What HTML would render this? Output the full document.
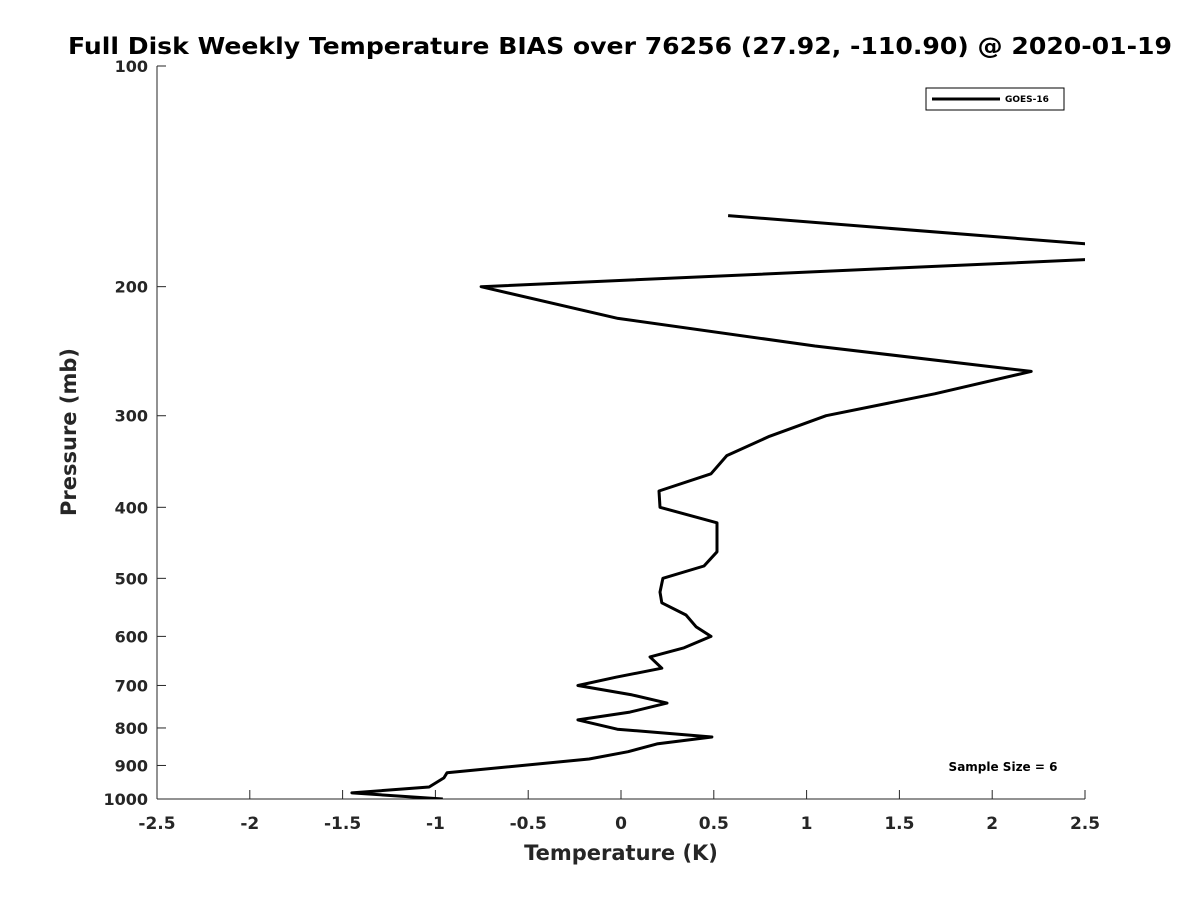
<!DOCTYPE html>
<html><head><meta charset="utf-8"><style>
body{margin:0;background:#fff;}
svg text{font-family:"DejaVu Sans","Liberation Sans",sans-serif;font-weight:bold;fill:#262626;}
</style></head><body>
<svg id="chart" width="1200" height="900" viewBox="0 0 1200 900">
<rect width="1200" height="900" fill="#fff"/>
<text x="620" y="54" text-anchor="middle" font-size="23" textLength="1104" lengthAdjust="spacingAndGlyphs" style="fill:#000">Full Disk Weekly Temperature BIAS over 76256 (27.92, -110.90) @ 2020-01-19</text>
<g id="axes"></g>
<defs><clipPath id="plotclip"><rect x="157" y="66" width="928" height="733"/></clipPath></defs>
<g clip-path="url(#plotclip)"><polyline id="series" fill="none" stroke="#000" stroke-width="3" stroke-linejoin="round"/></g>
<g>
<rect x="926" y="88" width="138" height="22" fill="#fff" stroke="#000" stroke-width="1"/>
<line x1="932" y1="99" x2="1000" y2="99" stroke="#000" stroke-width="3"/>
<text x="1005" y="102" font-size="9" style="fill:#000">GOES-16</text>
</g>
<text x="1003" y="771" text-anchor="middle" font-size="12" style="fill:#000">Sample Size = 6</text>
<text x="621" y="860" text-anchor="middle" font-size="21">Temperature (K)</text>
<text transform="translate(76,432) rotate(-90)" text-anchor="middle" font-size="21">Pressure (mb)</text>
</svg>
<script>
const temps=[0.577,2.65,2.65,-0.754,-0.016,1.045,2.21,1.69,1.105,0.80,0.57,0.485,0.205,0.21,0.517,0.517,0.447,0.226,0.21,0.22,0.35,0.404,0.485,0.34,0.156,0.22,-0.027,-0.232,0.06,0.248,0.048,-0.232,-0.02,0.49,0.194,0.038,-0.172,-0.9375,-0.954,-1.034,-1.45,-0.96];
const pressures=[160,176,183,200,221,241,261,280,300,320,340,360,380,400,420,460,481,500,522,540,561,582,600,622,640,663,682,700,721,740,761,780,803,823,841,862,882,921,936,963,981,1000];
const xTicks=[-2.5,-2,-1.5,-1,-0.5,0,0.5,1,1.5,2,2.5];
const yTicks=[100,200,300,400,500,600,700,800,900,1000];
const X0=157,X1=1085,Y0=66,Y1=799;
function xs(t){return X0+(t+2.5)/5*(X1-X0);}
function ys(p){return Y0+Math.log10(p/100)*(Y1-Y0);}
const NS='http://www.w3.org/2000/svg';
const ax=document.getElementById('axes');
function mk(tag,attrs,txt){const e=document.createElementNS(NS,tag);for(const k in attrs)e.setAttribute(k,attrs[k]);if(txt!==undefined)e.textContent=txt;ax.appendChild(e);return e;}
let l=mk('line',{x1:X0,y1:Y0,x2:X0,y2:Y1,stroke:'#262626','stroke-width':1});


l=mk('line',{x1:X0,y1:Y1,x2:X1,y2:Y1,stroke:'#262626','stroke-width':1});


xTicks.forEach(t=>{const x=xs(t);
 const tk=mk('line',{x1:x,y1:Y1,x2:x,y2:Y1-9,stroke:'#262626','stroke-width':1});
 
 
 const tx=mk('text',{x:x,y:829,'text-anchor':'middle','font-size':17},String(t));
 
 
});
yTicks.forEach(p=>{const y=ys(p);
 const tk=mk('line',{x1:X0,y1:y,x2:X0+9,y2:y,stroke:'#262626','stroke-width':1});
 
 
 const tx=mk('text',{x:148,y:y+6,'text-anchor':'end','font-size':16},String(p));
 
 
});
document.getElementById('series').setAttribute('points',temps.map((t,i)=>xs(t).toFixed(1)+','+ys(pressures[i]).toFixed(1)).join(' '));
</script>
</body></html>
